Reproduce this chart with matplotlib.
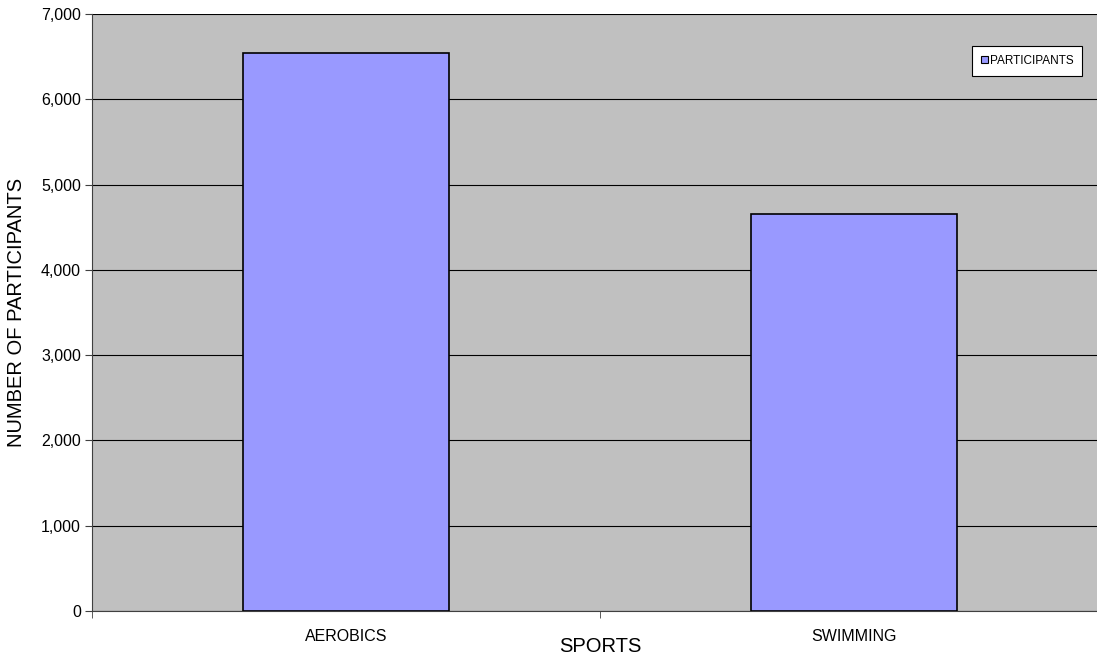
import matplotlib
matplotlib.use("Agg")
import matplotlib.pyplot as plt
from matplotlib.ticker import FuncFormatter, FixedLocator
from matplotlib.patches import Patch

sports = ["AEROBICS", "SWIMMING"]
participants = [6540, 4650]
y_ticks = [0, 1000, 2000, 3000, 4000, 5000, 6000, 7000]

plt.rcParams["font.family"] = ["Liberation Sans", "DejaVu Sans"]

W, H = 1097, 663
fig = plt.figure(figsize=(W / 100, H / 100), dpi=100)
ax = fig.add_axes([92 / W, (H - 611) / H, (1108 - 92) / W, (611 - 14) / H])
ax.set_facecolor("#c0c0c0")

x = range(len(sports))
ax.bar(x, participants, width=0.405, color="#9999ff", edgecolor="black",
       linewidth=1.2, zorder=3)

ax.set_xlim(-0.5, len(sports) - 0.5)
ax.set_ylim(0, 7000)
ax.set_yticks(y_ticks)
ax.yaxis.set_major_formatter(FuncFormatter(lambda v, p: f"{int(v):,}"))
ax.grid(axis="y", color="black", linewidth=0.8, zorder=1)

# category labels in the middle, tick marks between categories
ax.set_xticks(list(x))
ax.set_xticklabels(sports)
ax.tick_params(axis="x", which="major", length=0, labelsize=11.5, pad=13)
ax.xaxis.set_minor_locator(FixedLocator([-0.5, 0.5, 1.5]))
ax.tick_params(axis="x", which="minor", length=5, color="#404040")
ax.tick_params(axis="y", length=5, color="#404040", labelsize=11.5, pad=3)

ax.spines["right"].set_visible(False)
ax.spines["top"].set_visible(False)
ax.spines["left"].set_color("#404040")
ax.spines["bottom"].set_color("#404040")

ax.set_xlabel("SPORTS", fontsize=14.5)
ax.xaxis.set_label_coords(0.5, -0.044)
ax.set_ylabel("NUMBER OF PARTICIPANTS", fontsize=14.5)
ax.yaxis.set_label_coords(-0.065, 0.5)

handle = Patch(facecolor="#9999ff", edgecolor="black", linewidth=0.8)
leg = ax.legend([handle], ["PARTICIPANTS"], loc="upper right",
                bbox_to_anchor=((1082 - 92) / (1108 - 92), (611 - 46) / (611 - 14)),
                fontsize=8.5, frameon=True, fancybox=False, framealpha=1,
                handlelength=0.6, handleheight=0.6, handletextpad=0.15,
                borderpad=0.75, borderaxespad=0)
leg.get_frame().set_edgecolor("black")
leg.get_frame().set_linewidth(0.8)

fig.savefig("out.png", dpi=100)
